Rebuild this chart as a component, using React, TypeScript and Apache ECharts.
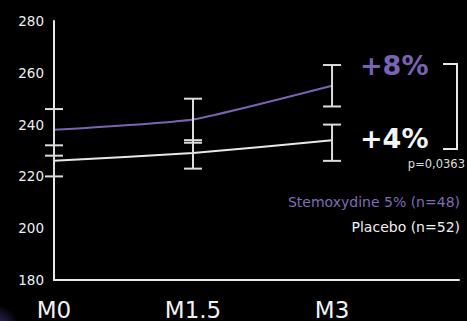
import React, { useEffect, useRef } from "react";
import * as echarts from "echarts";

const months = [0, 1.5, 3];
const monthLabels = ["M0", "M1.5", "M3"];
const stemoxydine = [238, 242, 255];
const placebo = [226, 229, 234];
const stemLow = [228, 233, 247];
const stemHigh = [246, 250, 263];
const placLow = [220, 223, 226];
const placHigh = [232, 234, 240];
const yMin = 180;
const yMax = 280;
const yStep = 20;

const PURPLE = "#7b63b3";
const WHITE = "#e8e8e8";
const FONT = "'DejaVu Sans', Verdana, sans-serif";

export default function App() {
  const ref = useRef<HTMLDivElement>(null);
  useEffect(() => {
    if (!ref.current) return;
    const chart = echarts.init(ref.current, null, { renderer: "svg" });
    const errData = [
      ...months.map((m, i) => [m, stemLow[i], stemHigh[i]]),
      ...months.map((m, i) => [m, placLow[i], placHigh[i]]),
    ];
    const labelFor = (v: number) => {
      const idx = months.findIndex((m) => Math.abs(m - v) < 1e-6);
      return idx >= 0 ? monthLabels[idx] : "";
    };
    chart.setOption({
      animation: false,
      backgroundColor: "#000",
      grid: { left: 54, right: 8, top: 21, bottom: 40, containLabel: false },
      xAxis: {
        type: "value",
        min: 0,
        max: 4.37,
        interval: 1.5,
        axisLine: { show: true, lineStyle: { color: WHITE, width: 2 } },
        axisTick: { show: false },
        splitLine: { show: false },
        axisLabel: {
          color: "#f2f2f2",
          fontSize: 23,
          fontFamily: FONT,
          margin: 18,
          formatter: (v: number) => labelFor(v),
        },
      },
      yAxis: {
        type: "value",
        min: yMin,
        max: yMax,
        interval: yStep,
        axisLine: { show: true, lineStyle: { color: WHITE, width: 2 } },
        axisTick: { show: false },
        splitLine: { show: false },
        axisLabel: { color: "#eeeeee", fontSize: 13.5, fontFamily: FONT, margin: 10 },
      },
      series: [
        {
          type: "line",
          data: months.map((m, i) => [m, stemoxydine[i]]),
          showSymbol: false,
          smooth: 0.15,
          lineStyle: { color: PURPLE, width: 2 },
          z: 2,
        },
        {
          type: "line",
          data: months.map((m, i) => [m, placebo[i]]),
          showSymbol: false,
          smooth: 0.15,
          lineStyle: { color: WHITE, width: 2 },
          z: 2,
        },
        {
          type: "custom",
          data: errData,
          z: 3,
          renderItem: (params: any, api: any) => {
            const x = api.value(0);
            const lo = api.coord([x, api.value(1)]);
            const hi = api.coord([x, api.value(2)]);
            const w = 9;
            const st = { stroke: "#dcdcdc", lineWidth: 2 };
            return {
              type: "group",
              children: [
                { type: "line", shape: { x1: lo[0], y1: lo[1], x2: hi[0], y2: hi[1] }, style: st },
                { type: "line", shape: { x1: lo[0] - w, y1: lo[1], x2: lo[0] + w, y2: lo[1] }, style: st },
                { type: "line", shape: { x1: hi[0] - w, y1: hi[1], x2: hi[0] + w, y2: hi[1] }, style: st },
              ],
            };
          },
        },
      ],
      graphic: [
        {
          type: "circle",
          shape: { cx: -6, cy: 330, r: 26 },
          style: {
            fill: new echarts.graphic.RadialGradient(0.5, 0.5, 0.5, [
              { offset: 0, color: "rgba(120,90,200,0.6)" },
              { offset: 1, color: "rgba(120,90,200,0)" },
            ]),
          },
          silent: true,
        },
        {
          type: "text",
          left: 360,
          top: 52,
          style: { text: "+8%", fill: PURPLE, fontSize: 27, fontFamily: FONT, fontWeight: "bold" },
        },
        {
          type: "text",
          left: 360,
          top: 125,
          style: { text: "+4%", fill: "#f4f4f4", fontSize: 27, fontFamily: FONT, fontWeight: "bold" },
        },
        {
          type: "text",
          right: 2,
          top: 158,
          style: { text: "p=0,0363", fill: "#dddddd", fontSize: 11.5, fontFamily: FONT },
        },
        {
          type: "polyline",
          shape: { points: [[443, 64], [457, 64], [457, 149], [443, 149]] },
          style: { stroke: WHITE, lineWidth: 2, fill: "none" },
        },
        {
          type: "text",
          right: 7,
          top: 195,
          style: { text: "Stemoxydine 5% (n=48)", fill: "#7f6cb5", fontSize: 14, fontFamily: FONT },
        },
        {
          type: "text",
          right: 7,
          top: 220,
          style: { text: "Placebo (n=52)", fill: "#f0f0f0", fontSize: 14, fontFamily: FONT },
        },
      ],
    });
    return () => chart.dispose();
  }, []);
  return (
    <div
      ref={ref}
      style={{ position: "fixed", left: 0, top: 0, width: 467, height: 321, background: "#000" }}
    />
  );
}
